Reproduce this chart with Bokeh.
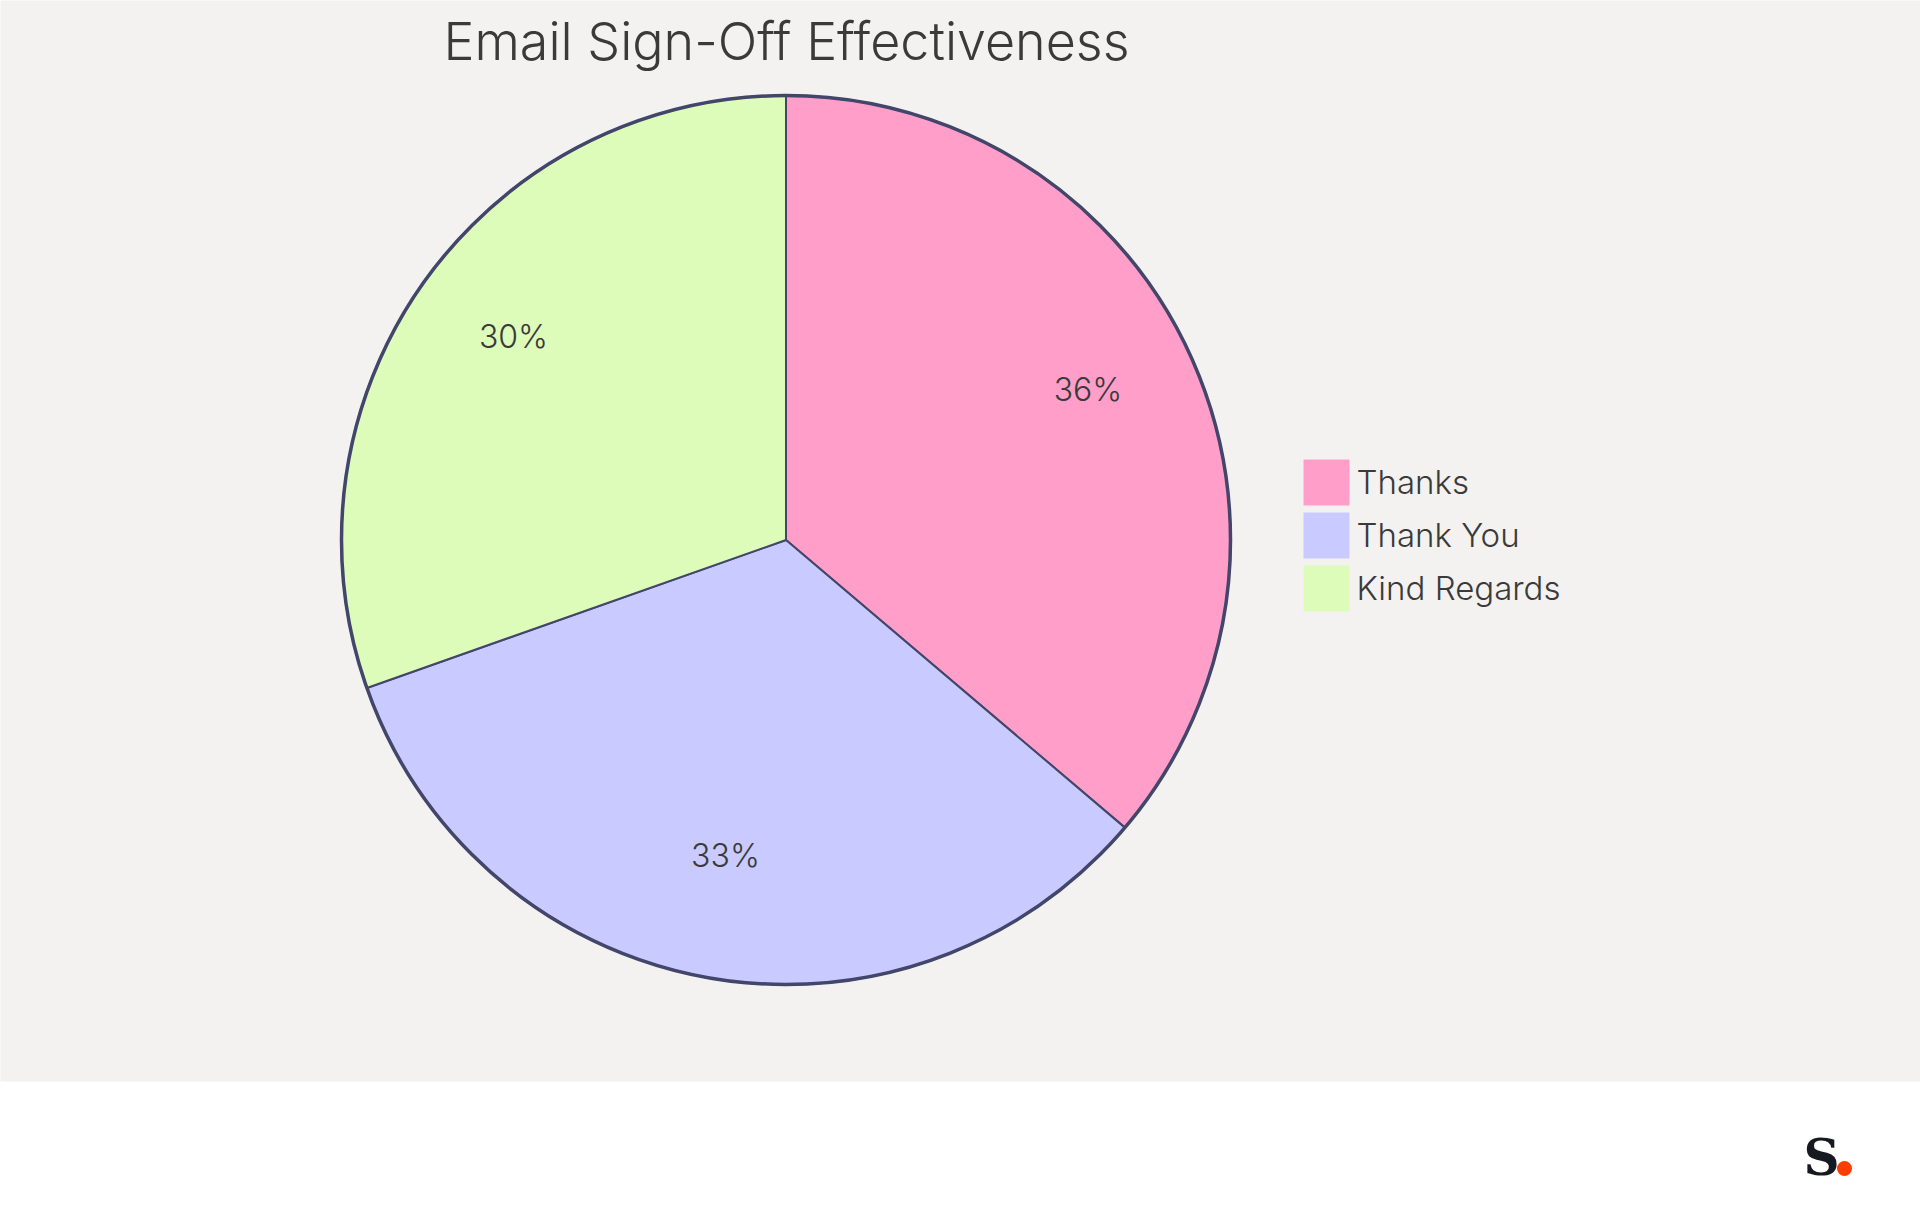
import math
from bokeh.core.properties import value
from bokeh.embed import file_html
from bokeh.models import ColumnDataSource, Range1d
from bokeh.plotting import figure
from bokeh.resources import INLINE

title = "Email Sign-Off Effectiveness"
categories = ["Thanks", "Thank You", "Kind Regards"]
values = [36.2, 33.4, 30.4]
percent_labels = ["36%", "33%", "30%"]
colors = ["#FF9FC9", "#C9CAFF", "#DDFBB9"]

# Layout in page pixels (y measured from the top of the page)
PAGE_H = 1215
def Y(v):
    return PAGE_H - v

CX, CY, R = 785.5, 539.5, 444.5
EDGE = "#42466A"
TEXT = "#3A3A3A"
FONT = value("Inter Light")

total = sum(values)
starts, ends, acc = [], [], 0
for v in values:
    starts.append(math.pi / 2 - 2 * math.pi * acc / total)
    acc += v
    ends.append(math.pi / 2 - 2 * math.pi * acc / total)

p = figure(width=1920, height=1215, output_backend="svg", toolbar_location=None,
           x_range=Range1d(0, 1920), y_range=Range1d(0, 1215),
           min_border=0, outline_line_color=None, background_fill_color="white",
           border_fill_color="white")
p.axis.visible = False
p.grid.visible = False

# chart background band
p.quad(left=[-10], right=[1930], bottom=[Y(1081)], top=[Y(-10)], fill_color="#F3F2F0", line_color=None)

src = ColumnDataSource(dict(x=[CX] * 3, y=[Y(CY)] * 3, start=starts, end=ends, color=colors))
p.wedge(x="x", y="y", radius=R, start_angle="start", end_angle="end", direction="clock",
        fill_color="color", line_color=EDGE, line_width=2, source=src)
p.circle(x=[CX], y=[Y(CY)], radius=R, fill_color=None, line_color=EDGE, line_width=3.5)

# title
p.text(x=[786], y=[Y(41)], text=[title], text_font=FONT, text_font_size="52px",
       text_color=TEXT, text_align="center", text_baseline="middle")

# percentage labels
p.text(x=[1087.5, 725, 513], y=[Y(389), Y(855), Y(336)], text=percent_labels, text_font=FONT,
       text_font_size="32px", text_color=TEXT, text_align="center", text_baseline="middle")

# legend
lx, ly = 1303, [459, 512, 565]
p.quad(left=[lx] * 3, right=[lx + 46] * 3, top=[Y(t) for t in ly], bottom=[Y(t + 46) for t in ly],
       fill_color=colors, line_color=None)
p.text(x=[1356] * 3, y=[Y(t + 22) for t in ly], text=categories, text_font=FONT,
       text_font_size="33px", text_color=TEXT, text_align="left", text_baseline="middle")

# brand mark
p.text(x=[1821], y=[Y(1157)], text=["S"], text_font=value("DejaVu Serif"), text_font_style="bold",
       text_font_size="50px", text_color="#16191F", text_align="center", text_baseline="middle")
p.scatter(x=[1844], y=[Y(1168)], size=15, fill_color="#FF3D00", line_color=None)

open("out.html", "w").write(file_html(p, INLINE))
